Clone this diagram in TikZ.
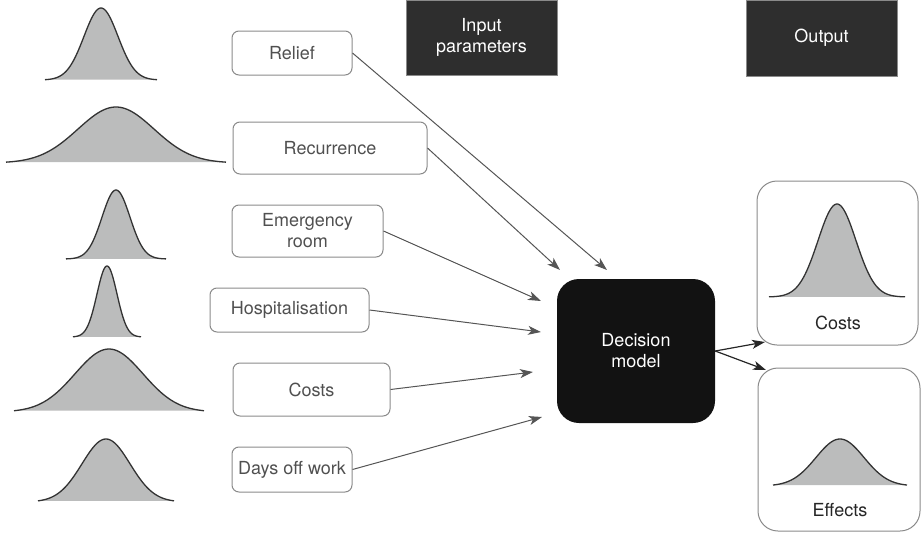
\documentclass[tikz,border=0pt]{standalone}
\usepackage{fontspec}
\setmainfont{TeX Gyre Heros}
\usetikzlibrary{arrows.meta}
\definecolor{fillg}{HTML}{BBBCBC}
\definecolor{curveg}{HTML}{333333}
\definecolor{boxg}{HTML}{8A8A8A}
\definecolor{txtg}{HTML}{505050}
\definecolor{darkhdr}{HTML}{2E2E2E}
\definecolor{decblack}{HTML}{121212}
\definecolor{arrg}{HTML}{555555}
\newcommand\gausscurve[5]{% xc, y0, halfwidth, sigma, height
  \fill[fillg] plot[domain=-#3:#3,samples=90,smooth] ({#1+\x},{#2-#5*exp(-0.5*(\x/#4)*(\x/#4))}) -- cycle;
  \draw[curveg,line width=1.3pt,line join=round] plot[domain=-#3:#3,samples=90,smooth] ({#1+\x},{#2-#5*exp(-0.5*(\x/#4)*(\x/#4))});
}
\tikzset{
  inbox/.style={draw=boxg,line width=1pt,rounded corners=7pt,text=txtg,align=center,inner sep=0pt,font=\fontsize{18}{21}\selectfont},
  hdrbox/.style={fill=darkhdr,draw=boxg,line width=0.6pt,text=white,align=center,inner sep=0pt,font=\fontsize{18}{21}\selectfont},
  decbox/.style={fill=decblack,rounded corners=22pt,text=white,align=center,inner sep=0pt,font=\fontsize{18}{21}\selectfont},
  outbox/.style={draw=boxg,line width=1pt,rounded corners=20pt,inner sep=0pt},
  outlabel/.style={text=black!85,font=\fontsize{18}{21}\selectfont,inner sep=0pt},
  inarrow/.style={draw=arrg,line width=1pt,-{Stealth[length=13pt,width=9pt,inset=3.5pt]}},
  outarrow/.style={draw=black!85,line width=1.2pt,-{Stealth[length=13pt,width=9pt,inset=3.5pt]}},
}
\begin{document}
\begin{tikzpicture}[x=1pt,y=-1pt]
\useasboundingbox (0,0) rectangle (922,533);
% distributions on the left
\gausscurve{101}{80}{56}{17}{72}
\gausscurve{116}{163}{110}{38}{56}
\gausscurve{116}{259}{50}{14}{69}
\gausscurve{107}{337}{34}{10}{71}
\gausscurve{109}{412}{95}{34}{63}
\gausscurve{106}{502}{68}{24}{63}
% header boxes
\node[hdrbox,minimum width=151pt,minimum height=75pt] (input) at (481.5,37.5) {Input\\parameters};
\node[hdrbox,minimum width=151pt,minimum height=76pt] (output) at (821.5,38) {Output};
% input parameter boxes
\node[inbox,minimum width=120pt,minimum height=44pt] (relief) at (292,53) {Relief};
\node[inbox,minimum width=194pt,minimum height=52pt] (recur) at (330,148) {Recurrence};
\node[inbox,minimum width=151pt,minimum height=52pt] (emerg) at (307.5,231) {Emergency\\room};
\node[inbox,minimum width=159pt,minimum height=44pt] (hosp) at (289.5,310) {Hospitalisation};
\node[inbox,minimum width=157pt,minimum height=53pt] (costs) at (311.5,389.5) {Costs};
\node[inbox,minimum width=120pt,minimum height=45pt] (days) at (292,469.5) {Days off work};
% decision model
\node[decbox,minimum width=158pt,minimum height=144pt] (dec) at (636,351) {Decision\\model};
% output boxes
\node[outbox,minimum width=161pt,minimum height=164pt] (ocosts) at (837.5,263) {};
\node[outbox,minimum width=162pt,minimum height=163pt] (oeff) at (839,449.5) {};
\gausscurve{837}{297}{68}{19}{93}
\gausscurve{840}{486}{67}{24}{47}
\node[outlabel] (ocostslbl) at (838,323) {Costs};
\node[outlabel] (oefflbl) at (840,510) {Effects};
% arrow tips
\coordinate (t1) at (607,270);
\coordinate (t2) at (560,270);
\coordinate (t3) at (541,301);
\coordinate (t4) at (541,332);
\coordinate (t5) at (533,372);
\coordinate (t6) at (542,417);
\coordinate (oc) at (765,342);
\coordinate (oe) at (766,370);
\draw[inarrow] (relief.east) -- (t1);
\draw[inarrow] (recur.east) -- (t2);
\draw[inarrow] (emerg.east) -- (t3);
\draw[inarrow] (hosp.east) -- (t4);
\draw[inarrow] (costs.east) -- (t5);
\draw[inarrow] (days.east) -- (t6);
\draw[outarrow] (dec.east) -- (oc);
\draw[outarrow] (dec.east) -- (oe);
\end{tikzpicture}
\end{document}
